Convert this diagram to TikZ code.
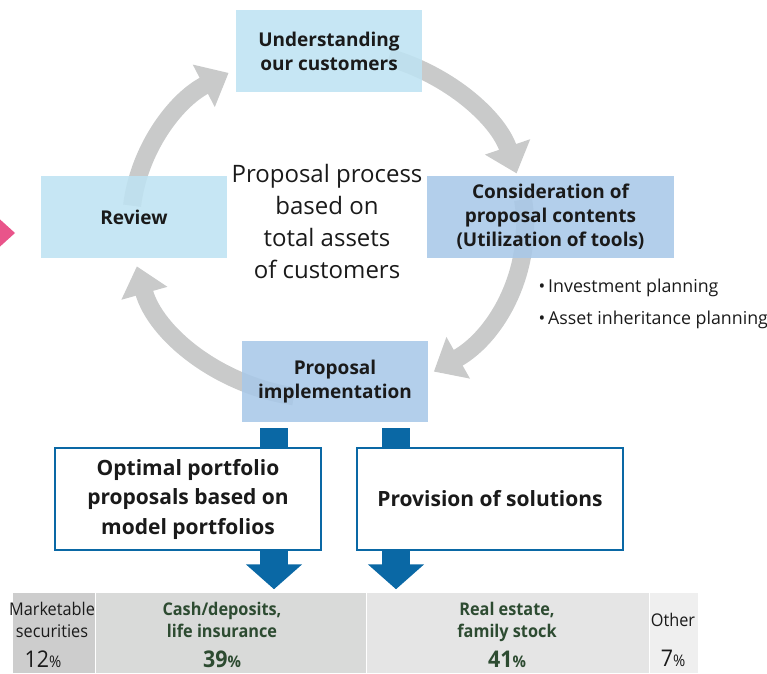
\documentclass[tikz,border=0pt]{standalone}
\usepackage{fontspec}
\setmainfont{Open Sans}
\newfontfamily\condfont[FakeStretch=0.93]{Open Sans}
\usetikzlibrary{arrows.meta,calc}
\definecolor{arcgray}{HTML}{C9CACA}
\definecolor{lblue}{HTML}{BEE3F2}
\definecolor{mblue}{HTML}{A8C8E8}
\definecolor{dblue}{HTML}{0A68A5}
\definecolor{pinkc}{HTML}{E9548A}
\definecolor{dgreen}{HTML}{2D4B31}
\definecolor{txt}{HTML}{1A1A1A}
\definecolor{ga}{HTML}{CDCDCD}
\definecolor{gb}{HTML}{D9DAD9}
\definecolor{gc}{HTML}{E5E5E5}
\definecolor{gd}{HTML}{EFEFEF}
\begin{document}
\begin{tikzpicture}[x=1pt,y=1pt,
  cyc/.style={draw=arcgray, line width=18pt, -{Triangle[width=46pt,length=28pt]}},
  box/.style={minimum width=186pt, minimum height=82pt, inner sep=0pt, align=center,
    text=txt, font=\bfseries\fontsize{19}{24}\selectfont, fill opacity=0.88, text opacity=1},
  outbox/.style={minimum width=266pt, minimum height=102pt, inner sep=0pt, align=center,
    draw=dblue, line width=2.5pt, fill=white, text=txt, font=\bfseries\fontsize{21}{29.5}\selectfont},
  stem/.style={draw=dblue, line width=28pt},
  bul/.style={anchor=base west, text=txt, font=\fontsize{17.8}{20}\selectfont},
  cellA/.style={anchor=base, text=txt, font=\condfont\fontsize{17.5}{20}\selectfont},
  cellB/.style={anchor=base, text=dgreen, font=\condfont\bfseries\fontsize{17.5}{20}\selectfont},
  pctA/.style={anchor=base, text=txt, font=\condfont\fontsize{23}{24}\selectfont},
  pctB/.style={anchor=base, text=dgreen, font=\condfont\bfseries\fontsize{23}{24}\selectfont}
]
\useasboundingbox (0,0) rectangle (767,673);
\clip (0,0) rectangle (767,673);

% pink marker at left edge
\fill[pinkc] (-6,459) -- (15,440) -- (-6,421) -- cycle;

% cycle arrows
\coordinate (C) at (328,449);
\draw[cyc] ($(C)+(174:197pt and 175pt)$) arc[start angle=174, end angle=120.3, x radius=197pt, y radius=175pt];
\draw[cyc] ($(C)+(72:197pt and 175pt)$) arc[start angle=72, end angle=16.8, x radius=197pt, y radius=175pt];
\draw[cyc] ($(C)+(8:197pt and 175pt)$) arc[start angle=8, end angle=-57.5, x radius=197pt, y radius=175pt];
\draw[cyc] ($(C)+(-100:197pt and 175pt)$) arc[start angle=-100, end angle=-166, x radius=197pt, y radius=175pt];

% process boxes
\node[box, fill=lblue] (und) at (329,622) {Understanding\\our customers};
\node[box, fill=lblue] (rev) at (134,456) {Review};
\node[box, fill=mblue, minimum width=247pt] (con) at (550.5,456) {Consideration of\\proposal contents\\(Utilization of tools)};
\node[box, fill=mblue, minimum height=81pt] (imp) at (335,291.5) {Proposal\\implementation};

% centre text
\node[align=center, text=txt, font=\fontsize{24}{32}\selectfont] (ctr) at (327,452) {Proposal process\\based on\\total assets\\of customers};

% bullets
\node[bul] (b1) at (535,381) {\textbullet\,Investment planning};
\node[bul] (b2) at (535,349) {\textbullet\,Asset inheritance planning};

% stems from implementation
\draw[stem] ($(imp.south)+(-61,-6)$) -- ++(0,-21);
\draw[stem] ($(imp.south)+(61,-6)$) -- ++(0,-21);

% solution boxes
\node[outbox] (opt) at (188,174) {Optimal portfolio\\proposals based on\\model portfolios};
\node[outbox] (prov) at (490,174) {Provision of solutions};

% down arrows
\draw[stem, -{Triangle[width=55pt,length=25pt]}] ($(opt.south)+(86,1)$) -- ++(0,-39);
\draw[stem, -{Triangle[width=55pt,length=25pt]}] ($(prov.south)+(-94,1)$) -- ++(0,-39);

% asset table
\fill[ga] (13,0) rectangle (95,80);
\fill[gb] (96,0) rectangle (366,80);
\fill[gc] (367,0) rectangle (649,80);
\fill[gd] (650,0) rectangle (698,80);

\node[cellA] (m1) at (52,58) {Marketable};
\node[cellA] (m2) at (52,36) {securities};
\node[pctA] (m3) at (43,6) {12{\fontsize{16}{16}\selectfont\%}};
\node[cellB] (c1) at (222,58) {Cash/deposits,};
\node[cellB] (c2) at (222,36) {life insurance};
\node[pctB] (c3) at (222,6) {39{\fontsize{16}{16}\selectfont\%}};
\node[cellB] (r1) at (507,58) {Real estate,};
\node[cellB] (r2) at (507,36) {family stock};
\node[pctB] (r3) at (507,6) {41{\fontsize{16}{16}\selectfont\%}};
\node[cellA] (o1) at (673,47) {Other};
\node[pctA] (o2) at (673,7) {7{\fontsize{16}{16}\selectfont\%}};
\end{tikzpicture}
\end{document}
